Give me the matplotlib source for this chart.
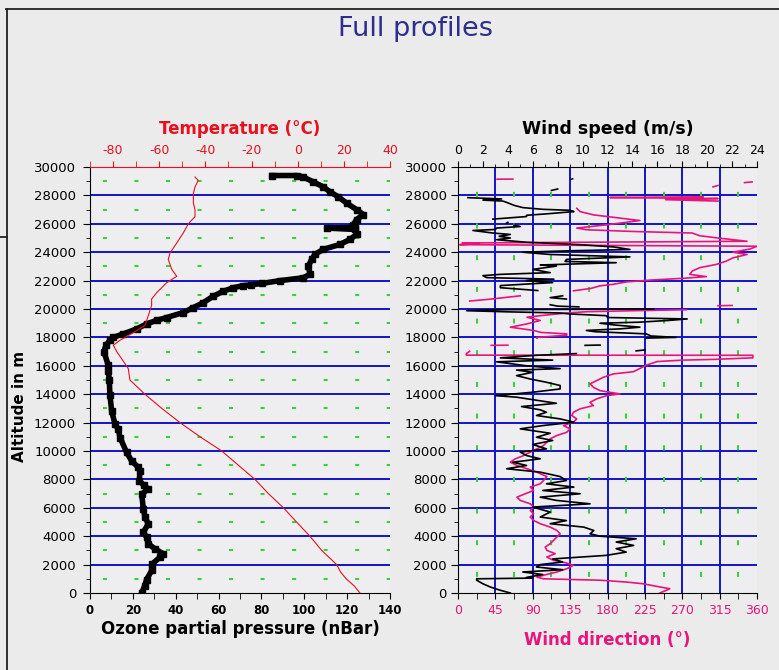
import numpy as np
import matplotlib as mpl
mpl.use('Agg')
mpl.rcParams.update({'font.family': 'DejaVu Sans', 'axes.unicode_minus': False,
                     'lines.scale_dashes': False})
from matplotlib import pyplot as plt
from matplotlib.lines import Line2D

nan = np.nan

# ozone partial pressure (nBar) vs altitude (m)
ozone_alt = [0, 500, 940, 1590, 2010, 2530, 2760, 3110, 3460, 3930, 4280, 4870, 5330, 5920, 6970,
             7320, 7600, 7910, 8610, 8840, 9310, 9900, 10950, 11530, 11880, 12820, 13940, 15000,
             15630, 16050, 17000, 17450, 17800, 18000, 18250, 18600, 18950, 19200, 19400, 19750,
             20100, 20450, 20900, 21250, 21500, 21650, 21700, 21800, 22000, 22200, 22450, 23000,
             23500, 23850, 24200, 24550, 24900, 25250, 25600, 25700, 25750, 25950, 26300, 26650,
             27000, 27450, 27900, 28250, 28600, 28950, 29300, 29400, 29400]
ozone_val = [24.1, 25.5, 26.4, 28.8, 28.8, 32.7, 34.2, 30.3, 27.2, 26.4, 24.9, 27.2, 25.7, 24.9, 24.1,
             27.2, 25.0, 23.0, 23.3, 22.6, 19.4, 17.1, 14.0, 13.2, 11.7, 10.1, 9.3, 9.0,
             8.6, 8.5, 6.5, 7.5, 9.3, 10.9, 15.6, 21.8, 26.4, 31.1, 35.8, 43.5,
             48.2, 52.9, 57.5, 62.2, 66.9, 71.6, 75.0, 80.1, 88.7, 99.5, 102.7, 101.9,
             103.4, 105.0, 108.9, 116.7, 121.3, 124.4, 123.7, 110.4, 123.5, 122.9, 124.4, 127.6,
             124.4, 119.8, 115.9, 112.0, 108.9, 104.2, 99.5, 96.4, 84.8]

# temperature (deg C)
temp_alt = [0, 500, 1000, 1500, 2000, 3000, 4000, 5000, 6000, 7000, 8000, 8900, 10000, 11000,
            12000, 13000, 14000, 15000, 15800, 16500, 17000, 17450, 17800, 18400, 18850, 19550,
            20250, 20700, 21150, 21850, 22300, 22800, 23500, 23950, 24650, 25350, 26000, 26500,
            27000, 27450, 28150, 28600, 29050, 29300]
temp_val = [27.0, 24.5, 21.0, 18.5, 16.9, 10.4, 5.3, -0.5, -6.2, -12.7, -18.5, -25.0, -32.9, -42.3,
            -51.0, -58.9, -66.2, -72.7, -73.4, -76.3, -78.4, -79.9, -77.0, -70.5, -66.2, -64.7,
            -63.3, -63.3, -61.1, -56.8, -52.4, -54.6, -56.1, -55.3, -52.4, -49.6, -47.4, -44.5,
            -44.5, -45.2, -45.2, -44.5, -43.1, -44.5]

# wind speed (m/s), nan = gap in data
wspd_alt = [0, 190, 420, 650, 900, 1000, 1050, 1100, 1300, 1480, 1640, 1830, 2000, 2180, 2400,
            2650, 2880, 3120, 3350, 3590, 3820, 4000, 4170, 4400, 4640, 4880, 5100, 5350, 5700,
            6050, 6280, 6520, 6750, 6990, 7220, 7460, 7690, 7920, 8200, 8510, 8750, 8980, 9210,
            9450, 9680, 9920, 10150, 10460, 10740, 10970, 11250, 11560, 11790, 12030, 12260,
            12500, 12730, 12900, 13130, 13360, 13790, 13900, 14140, 14370, 14610, 14840, 15070,
            15310, 15540, 15700, 15800, 16000, 16280, 16400, 16560, 16740, 16860, nan,
            17050, 17120, nan, 17440, 17460, nan,
            17950, 18000, 18100, 18250, 18400, 18490, 18600, 18720, 18880, 19000, 19070, 19200,
            19300, 19400, 19530, 19650, 19720, 19800, 19880, 19950, 20000, nan,
            20150, 20200, 20300, nan, 20700, 20800, 20930, nan,
            21300, 21500, 21650, 21860, 22000, 22100, 22210, 22350, 22440, 22560, 22790, 23020,
            23100, 23260, 23350, 23490, 23670, 23840, 24000, 24100, 24190, 24370, 24530, 24700,
            24880, 25000, 25120, 25250, 25350, 25530, 25600, 25700, 25810, 25900, nan,
            26050, 26100, nan,
            26330, 26510, 26600, 26700, 26860, 26950, 27020, 27140, 27300, 27510, 27600, 27670,
            27750, 27840, nan, 28350, 28450, nan, 29140, 29170]
wspd_val = [4.2, 3.4, 2.6, 2.0, 1.5, 1.5, 6.0, 5.5, 6.8, 5.2, 8.4, 6.3, 6.6, 8.4, 7.6,
            11.9, 13.5, 12.7, 14.1, 12.7, 14.3, 11.4, 10.6, 10.9, 10.1, 7.4, 8.7, 6.6, 7.4,
            6.0, 10.6, 7.9, 6.6, 9.8, 6.8, 9.3, 7.1, 8.7, 8.2, 6.6, 3.9, 5.5, 4.4,
            6.6, 5.5, 5.0, 7.1, 6.0, 7.6, 6.3, 7.4, 5.0, 6.8, 9.3, 8.2,
            6.3, 7.1, 6.6, 5.1, 7.9, 4.7, 3.0, 6.0, 8.2, 8.2, 7.1, 5.8,
            4.7, 6.0, 4.7, 8.2, 5.5, 3.1, 7.6, 3.4, 6.3, 9.5, nan,
            14.3, 15.0, nan, 10.2, 11.4, nan,
            15.1, 17.5, 15.5, 15.1, 11.0, 10.3, 13.0, 14.6, 12.5, 11.4, 14.5, 17.0,
            18.4, 12.0, 11.9, 9.0, 8.2, 4.0, 0.7, 3.0, 15.7, nan,
            9.7, 8.0, 7.4, nan, 8.7, 7.4, 8.4, nan,
            6.4, 3.4, 3.4, 7.6, 5.5, 7.7, 2.3, 2.0, 3.4, 7.4, 6.0, 7.9,
            6.6, 12.7, 8.6, 8.7, 13.8, 7.4, 5.2, 9.0, 13.8, 12.5, 9.8, 5.5,
            3.1, 4.2, 3.3, 4.2, 2.8, 1.2, 3.0, 3.1, 5.0, 4.5, nan,
            3.9, 4.0, nan,
            2.8, 5.5, 5.5, 7.1, 9.3, 9.0, 6.8, 5.2, 4.5, 3.9, 3.6, 2.0,
            3.5, 0.8, nan, 7.5, 8.0, nan, 9.1, 9.2]

# wind direction (deg)
wdir_alt = [0, 190, 300, 470, 650, 770, 900, 1000, 1120, 1310, 1480, 1710, 1950, 2110, 2300,
            2530, 2770, 3000, 3240, 3470, 3700, 3940, 4170, 4410, 4640, 4880, 5110, 5350, 5580,
            5810, 6050, 6280, 6520, 6750, 6990, 7220, 7460, 7690, 7920, 8200, 8510, 8750, 8980,
            9210, 9450, 9680, 9920, 10150, 10390, 10620, 10860, 11090, 11320, 11560, 11790,
            12030, 12260, 12500, 12730, 12970, 13200, 13430, 13670, 13900, 14020, 14250, 14490,
            14730, 14960, 15190, 15430, 15580, 15810, 16050, 16300, 16400, 16450, 16560, 16740,
            16750, 16860, 17020, nan, 17440, 17450, nan,
            17950, 18000, 18150, 18250, 18350, 18490, 18720, 18950, 19190, 19420, 19530, 19720,
            19810, 19880, 19950, nan, 20230, 20250, nan, 20560, 20700, 20930, nan,
            21280, 21450, 21630, 21740, 21910, 22050, 22160, 22280, 22440, 22670, 22910, 23140,
            23370, 23600, 23840, 24000, 24230, 24420, 24530, 24600, 24650, 24770, 24880, 25000,
            25160, 25350, 25460, 25580, 25700, 25930, 26050, 26230, 26400, 26630, 26860, 27090,
            nan, 27600, 27700, 27780, 27850, 27900, nan, 28600, 28700, nan, 28900, 28950, nan,
            29140, 29150]
wdir_val = [243, 251, 255, 239, 223, 203, 171, 103, 95, 107, 119, 131, 139, 131, 115,
            107, 117, 107, 105, 111, 115, 119, 123, 119, 111, 99, 91, 87, 91,
            87, 91, 87, 75, 71, 81, 91, 87, 99, 103, 107, 95, 83, 71,
            63, 69, 79, 87, 95, 103, 107, 111, 119, 131, 135, 127,
            139, 143, 137, 139, 147, 163, 159, 167, 179, 195, 171, 163,
            159, 167, 175, 187, 211, 219, 227, 240, 271, 307, 355, 355,
            10, 10, 14, nan, 40, 60, nan,
            95, 95, 131, 131, 100, 91, 63, 83, 99, 83, 99, 131,
            155, 211, 275, nan, 313, 330, nan, 14, 40, 75, nan,
            139, 160, 171, 187, 203, 235, 271, 299, 279, 282, 291, 311,
            323, 331, 348, 331, 352, 360, 2, 25, 5, 348, 331, 313,
            291, 282, 211, 155, 143, 179, 195, 219, 195, 163, 147, 143,
            nan, 313, 250, 313, 183, 295, nan, 307, 313, nan, 345, 354, nan,
            47, 66]

alt_ticks = np.arange(0, 30001, 2000)
alt_minor = np.arange(0, 30001, 1000)
blue_alts = np.arange(2000, 29000, 2000)
green_alts = np.arange(1000, 30000, 2000)

BG = '#ebebeb'
AXBG = '#eeeef1'
BLUE = '#1414c8'
GREEN = '#3ccf3c'
RED = '#e8101e'
PINK = '#e8147c'

W, H = 779, 670
fig = plt.figure(figsize=(W / 100, H / 100), dpi=100, facecolor=BG)


def fx(x):
    return x / W


def fy(y):
    return 1 - y / H


# window frame
for xs, ys in [([6, 779], [9, 9]), ([6.5, 6.5], [9, 670]), ([0, 6.5], [237, 237])]:
    fig.add_artist(Line2D([fx(v) for v in xs], [fy(v) for v in ys], color='#222222', lw=1.3))

fig.text(fx(416), fy(29), 'Full profiles', ha='center', va='center', fontsize=19.5, color='#2e2e8c')
fig.text(fx(20), fy(406), 'Altitude in m', ha='center', va='center', rotation=90,
         fontsize=11, fontweight='bold')

# ---------- left panel: ozone + temperature ----------
ax1 = fig.add_axes([fx(90), fy(593), 300 / W, 426 / H], facecolor=AXBG)
ax1.set_xlim(0, 140)
ax1.set_ylim(0, 30000)
ax1.hlines(blue_alts, 0, 140, colors=BLUE, lw=1.4, zorder=1)
ax1.hlines(green_alts, 0, 140, colors=GREEN, lw=1.5, linestyles=[(13.4, (2.9, 19.8))], zorder=1)
ax1.plot(ozone_val, ozone_alt, color='black', lw=4, marker='s', ms=4.2, zorder=3)

ax1.set_xticks(np.arange(0, 141, 20))
ax1.set_xticks(np.arange(0, 141, 10), minor=True)
ax1.set_yticks(alt_ticks)
ax1.set_yticks(alt_minor, minor=True)
ax1.tick_params(axis='x', which='both', length=4, pad=4, labelsize=8.5)
ax1.tick_params(axis='y', which='major', length=5, pad=5, labelsize=9.5)
ax1.tick_params(axis='y', which='minor', length=3)
for t in ax1.get_xticklabels():
    t.set_fontweight('bold')
ax1.spines['right'].set_visible(False)
ax1.spines['top'].set_visible(False)
ax1.set_xlabel('Ozone partial pressure (nBar)', fontsize=12, fontweight='bold', labelpad=2)

ax1t = ax1.twiny()
ax1t.set_xlim(-90, 40)
ax1t.plot(temp_val, temp_alt, color=RED, lw=0.8, zorder=2)
ax1t.set_xticks(np.arange(-80, 41, 20))
ax1t.set_xticks(np.arange(-90, 41, 10), minor=True)
ax1t.tick_params(axis='x', which='both', length=4, pad=3.5, labelsize=9, colors=RED)
for s in ['left', 'right', 'bottom']:
    ax1t.spines[s].set_visible(False)
ax1t.spines['top'].set_color(RED)
ax1t.set_xlabel('Temperature (°C)', fontsize=12, fontweight='bold', color=RED, labelpad=7)

# ---------- right panel: wind ----------
ax2 = fig.add_axes([fx(458), fy(593), 299 / W, 426 / H], facecolor=AXBG)
ax2.set_xlim(0, 360)
ax2.set_ylim(0, 30000)
ax2.hlines(blue_alts, 0, 360, colors=BLUE, lw=1.4, zorder=1)
ax2.vlines(np.arange(45, 360, 45), 0, 30000, colors=BLUE, lw=1.4, zorder=1)
ax2.vlines(np.arange(22.5, 360, 45), 0, 30000, colors=GREEN, lw=1.5,
           linestyles=[(11.2, (3.6, 19.2))], zorder=1)
ax2.plot(wdir_val, wdir_alt, color=PINK, lw=1.2, zorder=3)

ax2.set_xticks(np.arange(0, 361, 45))
ax2.set_xticks(np.arange(0, 361, 22.5), minor=True)
ax2.set_yticks(alt_ticks)
ax2.set_yticks(alt_minor, minor=True)
ax2.tick_params(axis='x', which='both', length=4, pad=4, labelsize=9, labelcolor=PINK)
ax2.tick_params(axis='y', which='major', length=5, pad=3, labelsize=9.5)
ax2.tick_params(axis='y', which='minor', length=3)
ax2.spines['right'].set_visible(False)
ax2.spines['top'].set_visible(False)
ax2.set_xlabel('Wind direction (°)', fontsize=12, fontweight='bold', color=PINK, labelpad=10)

ax2t = ax2.twiny()
ax2t.set_xlim(0, 24)
ax2t.plot(wspd_val, wspd_alt, color='black', lw=1.2, zorder=2)
ax2t.set_xticks(np.arange(0, 25, 2))
ax2t.set_xticks(np.arange(0, 25, 1), minor=True)
ax2t.tick_params(axis='x', which='major', length=4, pad=3.5, labelsize=9)
ax2t.tick_params(axis='x', which='minor', length=2)
for s in ['left', 'right', 'bottom']:
    ax2t.spines[s].set_visible(False)
ax2t.set_xlabel('Wind speed (m/s)', fontsize=12.5, fontweight='bold', labelpad=7)

fig.savefig('out.png', dpi=100, facecolor=BG)
